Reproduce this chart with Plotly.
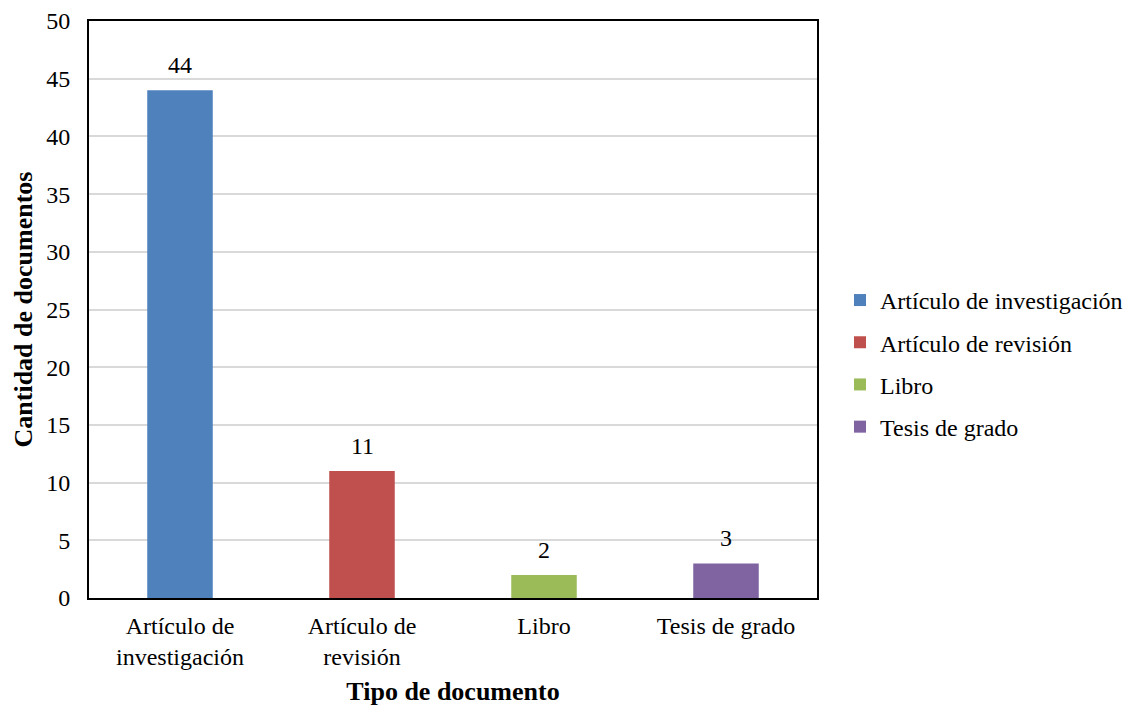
import plotly.graph_objects as go

categories = ["Artículo de investigación", "Artículo de revisión", "Libro", "Tesis de grado"]
tick_labels = ["Artículo de<br>investigación", "Artículo de<br>revisión", "Libro", "Tesis de grado"]
counts = [44, 11, 2, 3]
colors = ["#4f81bd", "#c0504d", "#9bbb59", "#8064a2"]

FONT = "Liberation Serif, Times New Roman, serif"

fig = go.Figure()
for name, tick, val, col in zip(categories, tick_labels, counts, colors):
    fig.add_trace(go.Bar(
        x=[tick], y=[val], name=name,
        marker=dict(color=col, line=dict(width=0)),
        width=0.36,
        legendgroup=name,
    ))
    # value label above each bar
    fig.add_annotation(
        x=tick, y=val, text=str(val), showarrow=False,
        yanchor="bottom", yshift=10,
        font=dict(family=FONT, size=24, color="#000"),
    )

fig.update_layout(
    width=1126, height=706,
    margin=dict(l=89, r=309, t=21, b=108, autoexpand=False),
    paper_bgcolor="white", plot_bgcolor="white",
    font=dict(family=FONT, size=24, color="#000"),
    showlegend=True,
    legend=dict(
        x=1.0316, y=0.4065, xanchor="left", yanchor="middle",
        font=dict(family=FONT, size=24, color="#000"),
        traceorder="grouped", tracegroupgap=8,
        bgcolor="rgba(0,0,0,0)",
    ),
    xaxis=dict(
        categoryorder="array", categoryarray=tick_labels,
        showline=True, linecolor="#000", linewidth=2, mirror=True,
        ticks="", showgrid=False, ticklabelstandoff=5, automargin=False,
        title=dict(text="<b>Tipo de documento</b>", font=dict(family=FONT, size=26), standoff=14),
        tickfont=dict(family=FONT, size=24),
    ),
    yaxis=dict(
        range=[0, 50], dtick=5,
        showline=True, linecolor="#000", linewidth=2, mirror=True,
        ticks="", showgrid=True, gridcolor="#d9d9d9", gridwidth=1.5,
        zeroline=False, ticklabelstandoff=12, automargin=False,
        title=dict(text="<b>Cantidad de documentos</b>", font=dict(family=FONT, size=26), standoff=6),
        tickfont=dict(family=FONT, size=24),
    ),
)

fig.write_html("out.html")
